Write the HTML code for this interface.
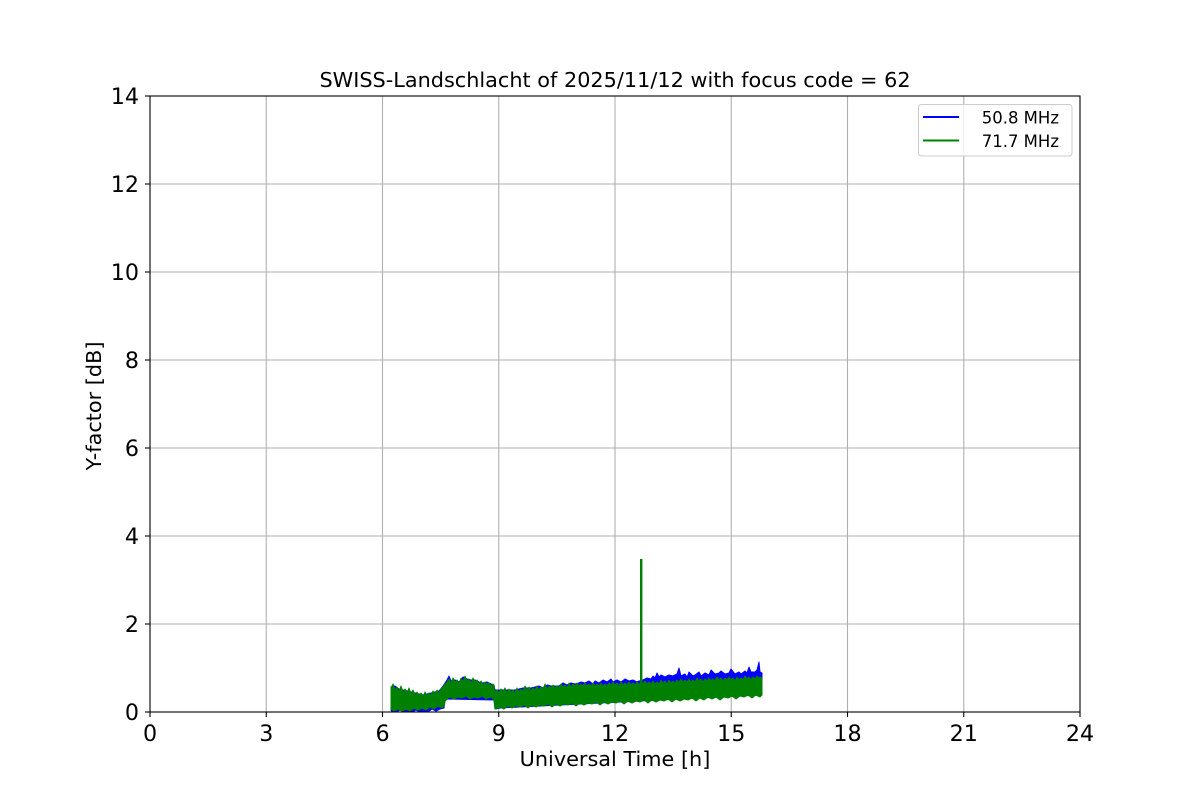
<!DOCTYPE html>
<html>
<head>
<meta charset="utf-8">
<style>
html,body{margin:0;padding:0;background:#fff;}
svg{display:block;}
text{font-family:"DejaVu Sans","Liberation Sans",sans-serif;fill:#000;}
</style>
</head>
<body>
<svg width="1200" height="800" viewBox="0 0 1200 800" xmlns="http://www.w3.org/2000/svg">
<rect x="0" y="0" width="1200" height="800" fill="#fff"/>
<!-- grid -->
<g stroke="#b0b0b0" stroke-width="1.1">
<line x1="266.25" y1="96" x2="266.25" y2="712"/>
<line x1="382.5" y1="96" x2="382.5" y2="712"/>
<line x1="498.75" y1="96" x2="498.75" y2="712"/>
<line x1="615" y1="96" x2="615" y2="712"/>
<line x1="731.25" y1="96" x2="731.25" y2="712"/>
<line x1="847.5" y1="96" x2="847.5" y2="712"/>
<line x1="963.75" y1="96" x2="963.75" y2="712"/>
<line x1="150" y1="624" x2="1080" y2="624"/>
<line x1="150" y1="536" x2="1080" y2="536"/>
<line x1="150" y1="448" x2="1080" y2="448"/>
<line x1="150" y1="360" x2="1080" y2="360"/>
<line x1="150" y1="272" x2="1080" y2="272"/>
<line x1="150" y1="184" x2="1080" y2="184"/>
</g>
<!-- blue series -->
<polygon fill="#0000ff" stroke="#0000ff" stroke-width="1" stroke-linejoin="round" points="391,687 395,686 399,689 403,690 407,691 411,692 415,693 419,694 423,695 427,694 431,693 435,692 439,691 443,686 447,680 449,676 451,681 455,680 459,682 463,677 467,679 471,680 475,680 479,682 483,683 487,682 491,684 494,685 495,690 499,690 503,690 507,690 511,690 515,690 519,689 523,688 527,688 531,688 535,687 539,686 543,688 547,685 551,686 555,686 559,686 563,683 567,685 571,683 575,684 579,683 581,682 585,683 589,681 593,684 595,681 599,683 603,680 607,682 611,679 613,682 617,680 621,682 625,679 629,681 633,680 637,682 639,681 643,680 647,678 651,679 653,676 655,678 657,673 659,677 661,675 665,677 669,675 673,676 677,674 679,668 681,676 685,674 687,677 689,672 693,676 695,675 699,672 701,676 705,673 709,675 711,670 715,674 719,673 721,671 725,674 729,673 731,669 735,674 739,672 741,674 745,671 747,673 749,667 751,672 755,672 757,670 759,662 760,672 762,673 762,695 740,696 700,698 660,700 620,702 580,704 540,706 500,708 495,709 494,700 447,699 445,701 444,708 440,709 436,711 432,709 428,712 424,711 420,712 416,710 412,712 408,711 404,712 400,710 396,712 392,712 391,710"/>
<!-- green series -->
<polygon fill="#008000" stroke="#008000" stroke-width="1" stroke-linejoin="round" points="391,688 393,684 395,690 397,687 399,691 401,686 403,692 405,689 407,693 409,688 411,694 413,690 415,695 417,692 419,696 421,693 423,697 425,692 427,696 429,693 431,695 433,691 435,694 437,690 439,693 441,689 443,687 445,684 447,682 449,679 451,683 453,678 455,682 457,680 459,684 461,678 463,682 465,676 467,681 469,679 471,683 473,678 475,682 477,680 479,684 481,681 483,685 485,682 487,684 489,683 491,686 493,684 494,686 495,692 497,690 499,693 501,689 503,692 505,688 507,693 509,689 511,692 513,690 515,693 517,688 519,692 521,689 523,691 525,686 527,690 529,687 531,691 533,688 535,690 537,686 539,690 541,687 543,689 545,684 547,689 549,686 551,688 553,685 555,688 557,686 559,688 561,684 563,687 565,685 567,688 569,683 571,687 573,684 575,686 577,683 579,686 581,684 583,686 585,683 587,686 589,684 591,686 593,683 595,686 597,684 599,686 601,683 603,686 605,684 607,686 609,683 611,685 613,682 615,685 617,683 619,686 621,682 623,685 625,683 627,685 629,682 631,685 633,683 635,685 637,682 639,684 643,683 645,681 647,684 649,682 651,684 653,681 655,684 657,682 659,684 661,680 663,683 665,681 667,684 669,680 671,683 673,681 675,683 677,680 679,682 681,679 683,682 685,680 687,682 689,679 691,682 693,680 695,682 697,678 699,681 701,679 703,682 705,679 707,681 709,678 711,681 713,679 715,681 717,677 719,680 721,678 723,681 725,678 727,680 729,677 731,680 733,678 735,681 737,677 739,680 741,678 743,680 745,676 747,679 749,677 751,680 753,677 755,679 757,676 759,678 761,677 762,679 762,695 760,697 756,695 752,698 748,695 744,697 740,696 736,699 732,696 728,698 724,697 720,700 716,697 712,699 708,697 704,700 700,698 696,701 692,698 688,700 684,699 680,701 676,699 672,702 668,699 664,701 660,700 656,702 652,700 648,703 644,700 640,702 636,701 632,703 628,701 624,704 620,701 616,703 612,702 608,704 604,702 600,705 596,702 592,704 588,703 584,705 580,703 576,706 572,703 568,705 564,704 560,706 556,704 552,707 548,704 544,706 540,705 536,707 532,705 528,708 524,705 520,707 516,706 512,708 508,706 504,709 500,707 496,709 495,709 494,700 492,698 490,697 486,699 482,696 478,698 474,697 470,699 466,696 462,698 458,697 454,699 450,697 447,699 445,701 444,706 442,708 438,706 434,709 430,707 426,710 422,708 418,710 414,708 410,711 406,709 402,711 398,709 394,711 391,709"/>
<!-- green spike -->
<rect x="640" y="559" width="2.4" height="142" fill="#008000"/>
<!-- axes frame -->
<rect x="150" y="96" width="930" height="616" fill="none" stroke="#000" stroke-width="1.1"/>
<!-- ticks -->
<g stroke="#000" stroke-width="1.1">
<line x1="150" y1="712" x2="150" y2="717"/>
<line x1="266.25" y1="712" x2="266.25" y2="717"/>
<line x1="382.5" y1="712" x2="382.5" y2="717"/>
<line x1="498.75" y1="712" x2="498.75" y2="717"/>
<line x1="615" y1="712" x2="615" y2="717"/>
<line x1="731.25" y1="712" x2="731.25" y2="717"/>
<line x1="847.5" y1="712" x2="847.5" y2="717"/>
<line x1="963.75" y1="712" x2="963.75" y2="717"/>
<line x1="1080" y1="712" x2="1080" y2="717"/>
<line x1="145" y1="712" x2="150" y2="712"/>
<line x1="145" y1="624" x2="150" y2="624"/>
<line x1="145" y1="536" x2="150" y2="536"/>
<line x1="145" y1="448" x2="150" y2="448"/>
<line x1="145" y1="360" x2="150" y2="360"/>
<line x1="145" y1="272" x2="150" y2="272"/>
<line x1="145" y1="184" x2="150" y2="184"/>
<line x1="145" y1="96" x2="150" y2="96"/>
</g>
<!-- x tick labels -->
<g font-size="22.2" text-anchor="middle">
<text x="150" y="741">0</text>
<text x="266.25" y="741">3</text>
<text x="382.5" y="741">6</text>
<text x="498.75" y="741">9</text>
<text x="615" y="741">12</text>
<text x="731.25" y="741">15</text>
<text x="847.5" y="741">18</text>
<text x="963.75" y="741">21</text>
<text x="1080" y="741">24</text>
</g>
<!-- y tick labels -->
<g font-size="22.2" text-anchor="end">
<text x="139" y="720">0</text>
<text x="139" y="632">2</text>
<text x="139" y="544">4</text>
<text x="139" y="456">6</text>
<text x="139" y="368">8</text>
<text x="139" y="280">10</text>
<text x="139" y="192">12</text>
<text x="139" y="104">14</text>
</g>
<!-- title & labels -->
<text x="615" y="87" font-size="20.8" text-anchor="middle">SWISS-Landschlacht of 2025/11/12 with focus code = 62</text>
<text x="615" y="766" font-size="20.8" text-anchor="middle">Universal Time [h]</text>
<text transform="translate(101,406) rotate(-90)" font-size="20.8" text-anchor="middle">Y-factor [dB]</text>
<!-- legend -->
<rect x="918.5" y="104.5" width="153.5" height="51.5" rx="3" ry="3" fill="#fff" fill-opacity="0.8" stroke="#cccccc" stroke-width="1"/>
<line x1="923" y1="117" x2="959" y2="117" stroke="#0000ff" stroke-width="2"/>
<line x1="923" y1="140.5" x2="959" y2="140.5" stroke="#008000" stroke-width="2"/>
<text x="1059" y="123.5" font-size="16.5" text-anchor="end">50.8 MHz</text>
<text x="1059" y="147" font-size="16.5" text-anchor="end">71.7 MHz</text>
</svg>
</body>
</html>
